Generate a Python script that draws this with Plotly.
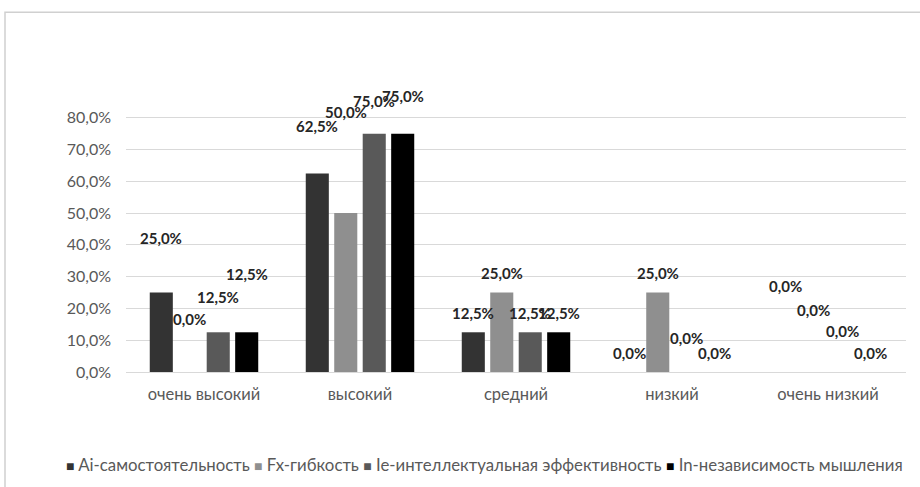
import plotly.graph_objects as go

# Levels on the x axis
categories = ["очень высокий", "высокий", "средний", "низкий", "очень низкий"]

# Series names and shares (fractions of 1)
series_names = [
    "Ai-самостоятельность",
    "Fx-гибкость",
    "Ie-интеллектуальная эффективность",
    "In-независимость мышления",
]
ai_values = [0.25, 0.625, 0.125, 0.0, 0.0]
fx_values = [0.0, 0.50, 0.25, 0.25, 0.0]
ie_values = [0.125, 0.75, 0.125, 0.0, 0.0]
in_values = [0.125, 0.75, 0.125, 0.0, 0.0]
series_values = [ai_values, fx_values, ie_values, in_values]

# Axis ticks
tick_values = [0.0, 0.1, 0.2, 0.3, 0.4, 0.5, 0.6, 0.7, 0.8]

# Styling
colors = ["#333333", "#8f8f8f", "#595959", "#000000"]
# Heights (axis units) at which each value label is placed
label_heights = [
    [0.422, 0.774, 0.186, 0.060, 0.271],
    [0.167, 0.818, 0.312, 0.312, 0.196],
    [0.237, 0.852, 0.186, 0.108, 0.130],
    [0.309, 0.868, 0.186, 0.060, 0.060],
]

BARGAP = 0.27
GROUPGAP = 0.19
FONT = "Lato"

fig = go.Figure()
for name, vals, col in zip(series_names, series_values, colors):
    fig.add_trace(go.Bar(
        x=categories, y=vals, name=name,
        marker=dict(color=col, line=dict(width=0)),
        showlegend=False,
    ))

# Value labels
slot = (1 - BARGAP) / len(series_values)
annotations = []
for j, (vals, heights) in enumerate(zip(series_values, label_heights)):
    offset = (j - (len(series_values) - 1) / 2) * slot
    for i, (v, h) in enumerate(zip(vals, heights)):
        txt = f"{v * 100:.1f}%".replace(".", ",")
        annotations.append(dict(
            x=i + offset, y=h, xref="x", yref="y", text=txt,
            showarrow=False, xanchor="center", yanchor="middle",
            font=dict(family=FONT, size=15, color="#262626", weight="bold"),
        ))

# Legend row
parts = []
for name, col in zip(series_names, colors):
    parts.append(f"<span style='color:{col};font-size:14px'>■</span> {name}")
annotations.append(dict(
    x=0.459, y=-0.3236, xref="paper", yref="paper",
    text=" ".join(parts), showarrow=False,
    xanchor="center", yanchor="middle",
    font=dict(family=FONT, size=16.8, color="#595959"),
))

# Outer chart frame
L, T, W, H = 126, 86, 780, 286.5
def px_x(p):
    return (p - L) / W
def px_y(p):
    return (T + H - p) / H

fig.update_layout(
    width=920, height=487,
    margin=dict(l=L, r=920 - L - W, t=T, b=487 - T - H),
    paper_bgcolor="white", plot_bgcolor="white",
    barmode="group", bargap=BARGAP, bargroupgap=GROUPGAP,
    separators=", ",
    font=dict(family=FONT, size=16, color="#595959"),
    annotations=annotations,
    shapes=[dict(
        type="rect", xref="paper", yref="paper",
        x0=px_x(5), x1=px_x(935), y0=px_y(500), y1=px_y(12),
        line=dict(color="#d0d0d0", width=1.5), layer="below",
    )],
    xaxis=dict(
        showgrid=False, showline=True, linecolor="#d9d9d9", linewidth=1,
        ticks="", tickfont=dict(size=16.5, color="#595959"),
        ticklabelstandoff=7,
    ),
    yaxis=dict(
        range=[0, 0.9], tickvals=tick_values, tickformat=".1%",
        showgrid=True, gridcolor="#d9d9d9", gridwidth=1,
        zeroline=False, showline=False, ticks="",
        tickfont=dict(size=16, color="#595959"),
        ticklabelstandoff=14,
    ),
)

fig.write_html("out.html")
